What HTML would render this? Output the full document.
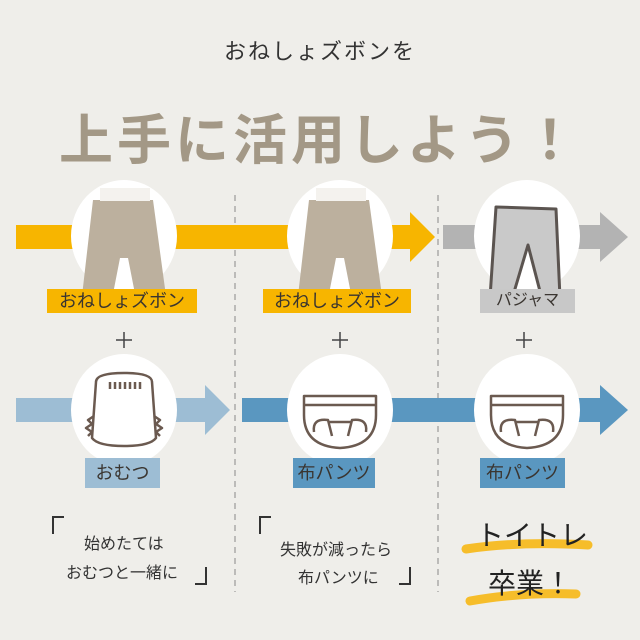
<!DOCTYPE html>
<html><head><meta charset="utf-8"><style>
html,body{margin:0;padding:0}
body{width:640px;height:640px;background:#efeeea;position:relative;overflow:hidden;font-family:"Liberation Sans","Noto Sans CJK JP",sans-serif;color:#3a3a3a}
.a{position:absolute}
.lbl{position:absolute;text-align:center;font-size:18px;line-height:24px;color:#3a3530}
.t{position:absolute;font-size:16px;color:#333;white-space:nowrap}
</style></head><body>
<div class="a" style="left:0;top:34px;width:640px;text-align:center;font-size:22px;letter-spacing:2px;color:#333">おねしょズボンを</div>
<div class="a" style="left:0;top:96px;width:640px;text-align:center;font-size:54px;font-weight:bold;letter-spacing:4px;color:#a39886">上手に活用しよう！</div>
<svg class="a" style="left:0;top:0" width="640" height="640">
<line x1="235" y1="195" x2="235" y2="592" stroke="#888" stroke-dasharray="6,5"/>
<line x1="438" y1="195" x2="438" y2="592" stroke="#888" stroke-dasharray="6,5"/>
<rect x="16" y="225" width="395" height="24" fill="#f7b500"/>
<polygon points="410,212 435,237 410,262" fill="#f7b500"/>
<rect x="443" y="225" width="158" height="24" fill="#b3b3b3"/>
<polygon points="600,212 628,237 600,262" fill="#b3b3b3"/>
<rect x="16" y="398" width="190" height="24" fill="#9dbdd4"/>
<polygon points="205,385 230,410 205,435" fill="#9dbdd4"/>
<rect x="242" y="398" width="359" height="24" fill="#5a97c0"/>
<polygon points="600,385 628,410 600,435" fill="#5a97c0"/>
<ellipse cx="124" cy="236" rx="53" ry="56" fill="#fff"/>
<ellipse cx="340" cy="236" rx="53" ry="56" fill="#fff"/>
<ellipse cx="527" cy="236" rx="53" ry="56" fill="#fff"/>
<ellipse cx="124" cy="410" rx="53" ry="56" fill="#fff"/>
<ellipse cx="340" cy="410" rx="53" ry="56" fill="#fff"/>
<ellipse cx="527" cy="410" rx="53" ry="56" fill="#fff"/>
<g fill="#bcb09e">
<path d="M93 200 L153 200 L166 296 L136 299 L128 258 L120 258 L112 299 L82 296 Z"/>
<path d="M309 200 L369 200 L382 296 L352 299 L344 258 L336 258 L328 299 L298 296 Z"/>
</g>
<rect x="100" y="188" width="50" height="13" fill="#f4f2ee"/>
<rect x="316" y="188" width="50" height="13" fill="#f4f2ee"/>
<path d="M496 207 L556 209 L560 298 L542 299 L528 245 L512 299 L490 298 Z" fill="#c9c9c9" stroke="#5b5450" stroke-width="3" stroke-linejoin="round"/>
<g fill="none" stroke="#6b5a50" stroke-width="2.5" stroke-linejoin="round">
<path d="M96 382 Q96 373 124 373 Q152 373 152 382 L156 438 Q150 446 124 446 Q98 446 92 438 Z"/>
<path d="M94 416 l-6 4 4 4 -6 4 6 4 -4 4M154 416 l6 4 -4 4 6 4 -6 4 4 4"/>
<path d="M110 382v7M115 382v7M120 382v7M125 382v7M130 382v7M135 382v7M140 382v7"/>
<path d="M304 396 L376 396 L376 415 Q376 446 340 448 Q304 446 304 415 Z M304 405 H376 M314 432 Q312 418 328 420 L332 436 M366 432 Q368 418 352 420 L348 436 M328 422 H352"/>
<path d="M491 396 L563 396 L563 415 Q563 446 527 448 Q491 446 491 415 Z M491 405 H563 M501 432 Q499 418 515 420 L519 436 M553 432 Q555 418 539 420 L535 436 M515 422 H539"/>
</g>
<g stroke="#444" stroke-width="1.5">
<path d="M116 340h16M124 332v16M332 340h16M340 332v16M516 340h16M524 332v16"/>
</g>
<path d="M53 534V517h11M206 567v17h-11M260 534V517h11M410 567v17h-11" fill="none" stroke="#333" stroke-width="2"/>
<path d="M466 549 Q520 541 588 545" stroke="#f6bd2a" stroke-width="9" fill="none" stroke-linecap="round"/>
<path d="M470 601 Q520 592 576 594" stroke="#f6bd2a" stroke-width="9" fill="none" stroke-linecap="round"/>
</svg>
<div class="lbl" style="left:47px;top:289px;width:150px;background:#f7b500">おねしょズボン</div>
<div class="lbl" style="left:263px;top:289px;width:148px;background:#f7b500">おねしょズボン</div>
<div class="lbl" style="left:480px;top:289px;width:95px;background:#c8c8c8;font-size:16px">パジャマ</div>
<div class="lbl" style="left:85px;top:458px;width:75px;height:30px;line-height:30px;background:#9dbdd4">おむつ</div>
<div class="lbl" style="left:293px;top:458px;width:82px;height:30px;line-height:30px;background:#5a97c0">布パンツ</div>
<div class="lbl" style="left:480px;top:458px;width:85px;height:30px;line-height:30px;background:#5a97c0">布パンツ</div>
<div class="t" style="left:84px;top:530px">始めたては</div>
<div class="t" style="left:66px;top:559px">おむつと一緒に</div>
<div class="t" style="left:280px;top:536px">失敗が減ったら</div>
<div class="t" style="left:298px;top:564px">布パンツに</div>
<div class="t" style="left:476px;top:514px;font-size:28px;color:#222">トイトレ</div>
<div class="t" style="left:488px;top:562px;font-size:28px;color:#222">卒業！</div>
</body></html>
